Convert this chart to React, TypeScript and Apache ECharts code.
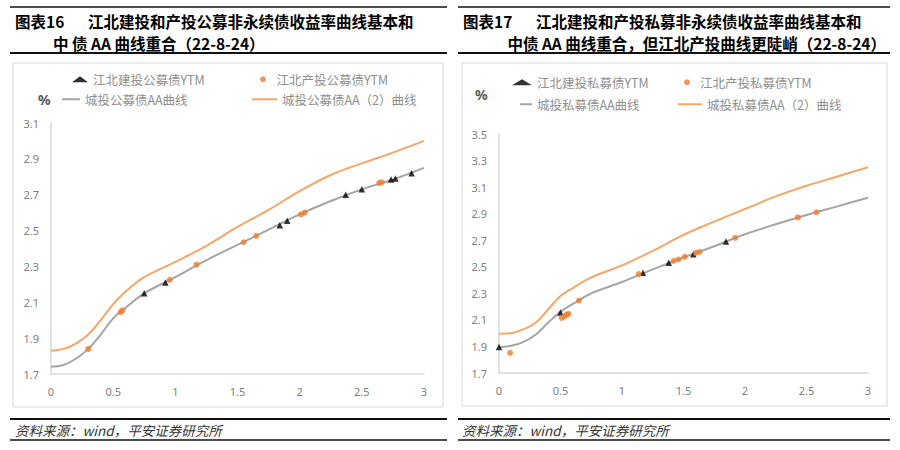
import React, { useEffect, useRef } from 'react';
import * as echarts from 'echarts';

// x positions (years) shared by the curves
const curveYears = [0, 0.1, 0.2, 0.3, 0.4, 0.5, 0.6, 0.75, 1, 1.25, 1.5, 1.75, 2, 2.25, 2.5, 2.75, 3];

// Figure 16: public bonds
const pubAA = [1.74, 1.75, 1.785, 1.84, 1.92, 2.01, 2.07, 2.15, 2.24, 2.335, 2.42, 2.505, 2.59, 2.665, 2.73, 2.785, 2.85];
const pubAA2 = [1.83, 1.84, 1.87, 1.92, 2.0, 2.09, 2.16, 2.24, 2.325, 2.415, 2.52, 2.615, 2.72, 2.81, 2.875, 2.935, 3.0];
const pubJianTou = [[0.75, 2.15], [0.92, 2.21], [1.84, 2.53], [1.9, 2.555], [2.37, 2.7], [2.5, 2.73], [2.735, 2.785], [2.77, 2.79], [2.9, 2.82]];
const pubChanTou = [[0.3, 1.84], [0.56, 2.045], [0.575, 2.055], [0.955, 2.225], [1.17, 2.31], [1.55, 2.435], [1.65, 2.47], [2.01, 2.59], [2.04, 2.6], [2.64, 2.765], [2.66, 2.77]];

// Figure 17: private bonds
const priAA = [1.895, 1.905, 1.935, 1.99, 2.08, 2.16, 2.22, 2.3, 2.385, 2.48, 2.57, 2.655, 2.745, 2.82, 2.89, 2.955, 3.02];
const priAA2 = [1.995, 2.0, 2.03, 2.08, 2.18, 2.28, 2.34, 2.42, 2.51, 2.62, 2.74, 2.84, 2.935, 3.03, 3.11, 3.18, 3.25];
const priJianTou = [[0, 1.895], [0.5, 2.155], [1.17, 2.455], [1.38, 2.53], [1.58, 2.595], [1.845, 2.69]];
const priChanTou = [[0.09, 1.852], [0.51, 2.115], [0.53, 2.125], [0.55, 2.14], [0.565, 2.145], [0.65, 2.245], [1.135, 2.445], [1.42, 2.545], [1.46, 2.555], [1.51, 2.575], [1.6, 2.605], [1.63, 2.612], [1.92, 2.718], [2.43, 2.872], [2.58, 2.91]];

const xTicks = { min: 0, max: 3, interval: 0.5 };
const leftY = { min: 1.7, max: 3.1 };
const rightY = { min: 1.7, max: 3.5 };

const names = {
  pubJ: '江北建投公募债YTM',
  pubC: '江北产投公募债YTM',
  pubAA: '城投公募债AA曲线',
  pubAA2: '城投公募债AA（2）曲线',
  priJ: '江北建投私募债YTM',
  priC: '江北产投私募债YTM',
  priAA: '城投私募债AA曲线',
  priAA2: '城投私募债AA（2）曲线',
};

const CJK = '"Noto Sans CJK SC", "Noto Sans", sans-serif';
const GRAY = '#a5a5a5';
const ORANGE_LINE = '#f4a66b';
const ORANGE_DOT = '#ed7d31';

const zip = (xs: number[], ys: number[]) => xs.map((x, i) => [x, ys[i]]);

function App() {
  const chartRef = useRef<HTMLDivElement>(null);

  useEffect(() => {
    document.body.style.margin = '0';
    if (!chartRef.current) return;
    const chart = echarts.init(chartRef.current, null, { renderer: 'svg' });

    const axisLabel = { color: '#808080', fontSize: 11, fontFamily: '"Noto Sans", sans-serif' };
    const makeX = (gridIndex: number) => ({
      type: 'value' as const,
      gridIndex,
      ...xTicks,
      axisLine: { show: true, lineStyle: { color: '#d9d9d9', width: 1.5 } },
      axisTick: { show: false },
      splitLine: { show: false },
      axisLabel: { ...axisLabel, margin: 12 },
    });
    // ticks every 0.1 from 1.7, label only the odd tenths (1.7, 1.9, ...)
    const makeY = (gridIndex: number, range: { min: number; max: number }) => ({
      type: 'value' as const,
      gridIndex,
      ...range,
      interval: 0.1,
      axisLine: { show: true, lineStyle: { color: '#d9d9d9', width: 1.5 } },
      axisTick: { show: false },
      splitLine: { show: false },
      axisLabel: {
        ...axisLabel,
        margin: 12,
        formatter: (v: number) => (Math.round(v * 10) % 2 === 1 ? v.toFixed(1) : ''),
      },
    });

    const legendText = { color: '#8f8f8f', fontSize: 12.5, fontFamily: CJK };
    const legendItem = (name: string, left: number, top: number, icon: string, w: number, h: number) => ({
      data: [name],
      left,
      top,
      icon,
      itemWidth: w,
      itemHeight: h,
      selectedMode: false,
      textStyle: legendText,
      padding: 0,
    });

    const lineSeries = (name: string, ys: number[], color: string, idx: number) => ({
      name,
      type: 'line' as const,
      xAxisIndex: idx,
      yAxisIndex: idx,
      data: zip(curveYears, ys),
      smooth: 0.4,
      showSymbol: false,
      symbol: 'none',
      color,
      lineStyle: { color, width: 2 },
      z: 2,
    });
    const scatterSeries = (name: string, pts: number[][], symbol: string, color: string, size: number, idx: number) => ({
      name,
      type: 'scatter' as const,
      xAxisIndex: idx,
      yAxisIndex: idx,
      data: pts,
      symbol,
      symbolSize: size,
      color,
      itemStyle: { color },
      z: 3,
    });

    const text = (t: string, x: number, y: number, extra: Record<string, unknown> = {}) => ({
      type: 'text',
      x,
      y,
      style: {
        text: t,
        fontFamily: CJK,
        fontSize: 15.5,
        fontWeight: 'bold',
        fill: '#000',
        verticalAlign: 'middle',
        align: 'left',
        ...extra,
      },
    });
    const hline = (x1: number, x2: number, y: number, w: number) => ({
      type: 'line',
      shape: { x1, y1: y, x2, y2: y },
      style: { stroke: '#111', lineWidth: w },
    });
    const box = (x: number, y: number, width: number, height: number) => ({
      type: 'rect',
      z: -1,
      shape: { x, y, width, height },
      style: { fill: '#fff', stroke: '#d9d9d9', lineWidth: 1 },
    });
    const source = '资料来源：wind，平安证券研究所';
    const sourceStyle = { fontSize: 13.5, fontWeight: 'normal', fontStyle: 'italic', fill: '#333' };
    const pctStyle = { fontSize: 14, fontWeight: 'bold', fill: '#595959', fontFamily: '"Noto Sans", sans-serif' };

    chart.setOption({
      animation: false,
      backgroundColor: '#fff',
      grid: [
        { left: 51, top: 123, width: 373, height: 251 },
        { left: 499, top: 134, width: 369, height: 239 },
      ],
      xAxis: [makeX(0), makeX(1)],
      yAxis: [makeY(0, leftY), makeY(1, rightY)],
      legend: [
        legendItem(names.pubJ, 72, 73, 'triangle', 16, 6),
        legendItem(names.pubC, 260, 73, 'circle', 17, 6),
        legendItem(names.pubAA, 62, 93, 'rect', 18, 2),
        legendItem(names.pubAA2, 252, 93, 'rect', 25, 2),
        legendItem(names.priJ, 512, 76, 'triangle', 20, 6),
        legendItem(names.priC, 684, 76, 'circle', 16, 6),
        legendItem(names.priAA, 520, 98, 'rect', 12, 2),
        legendItem(names.priAA2, 678, 98, 'rect', 24, 2),
      ],
      series: [
        lineSeries(names.pubAA, pubAA, GRAY, 0),
        lineSeries(names.pubAA2, pubAA2, ORANGE_LINE, 0),
        scatterSeries(names.pubJ, pubJianTou, 'triangle', '#000', 6.5, 0),
        scatterSeries(names.pubC, pubChanTou, 'circle', ORANGE_DOT, 6, 0),
        lineSeries(names.priAA, priAA, GRAY, 1),
        lineSeries(names.priAA2, priAA2, ORANGE_LINE, 1),
        scatterSeries(names.priJ, priJianTou, 'triangle', '#000', 6.5, 1),
        scatterSeries(names.priC, priChanTou, 'circle', ORANGE_DOT, 6, 1),
      ],
      graphic: [
        // left panel
        hline(10, 447, 7, 1.5),
        text('图表16', 15, 20.5),
        text('江北建投和产投公募非永续债收益率曲线基本和', 88, 20.5),
        text('中 债 AA 曲线重合（22-8-24）', 53, 43),
        hline(10, 447, 53, 2),
        box(13, 63, 430, 344),
        text('%', 38, 99, pctStyle),
        hline(10, 447, 419, 2),
        text(source, 15, 430, sourceStyle),
        hline(10, 447, 440, 1.5),
        // right panel
        hline(458, 890, 7, 1.5),
        text('图表17', 463, 20.5),
        text('江北建投和产投私募非永续债收益率曲线基本和', 536, 20.5),
        text('中债 AA 曲线重合，但江北产投曲线更陡峭（22-8-24）', 886, 43, { align: 'right' }),
        hline(458, 890, 53, 2),
        box(462, 63, 425, 343),
        text('%', 475, 94, pctStyle),
        hline(458, 890, 419, 2),
        text(source, 462, 430, sourceStyle),
        hline(458, 890, 440, 1.5),
      ],
    });

    return () => {
      chart.dispose();
    };
  }, []);

  return <div ref={chartRef} style={{ width: 900, height: 450 }} />;
}

export default App;
